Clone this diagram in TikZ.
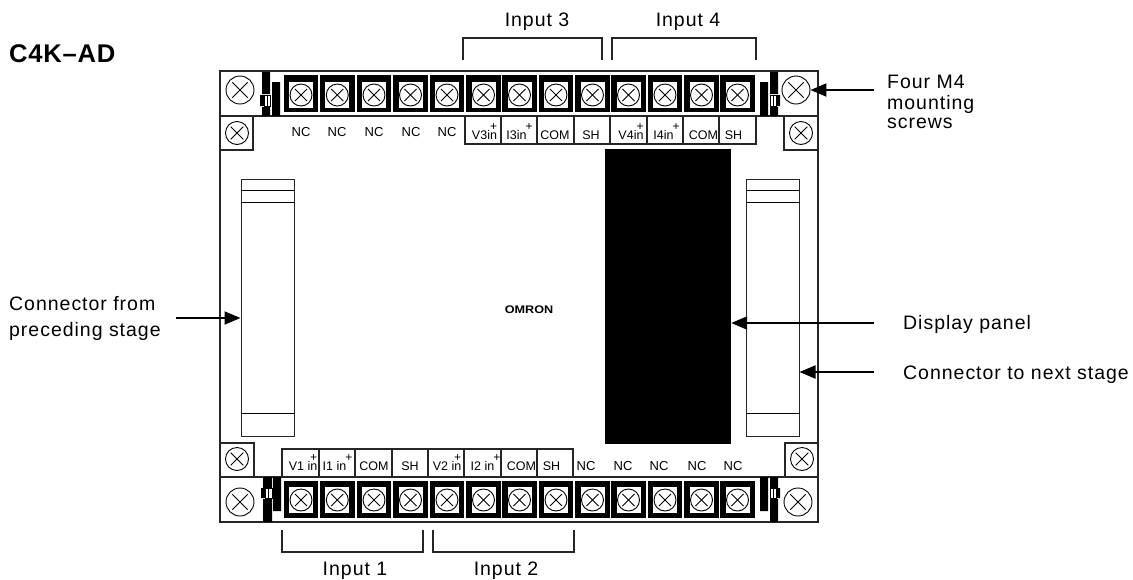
\documentclass[tikz,border=0pt]{standalone}
\usepackage{fontspec}
\setmainfont{Liberation Sans}
\newfontfamily\spacedfont[LetterSpace=5]{Liberation Sans}
\newfontfamily\titlefont[LetterSpace=3]{Liberation Sans Bold}
\usetikzlibrary{arrows.meta}
\newcommand{\plusL}{\llap{\raisebox{9pt}{\fontsize{12}{12}\selectfont +}}}
\newcommand{\plusR}{\rlap{\kern-1pt\raisebox{9pt}{\fontsize{12}{12}\selectfont +}}}
\tikzset{
  x=1pt,y=-1pt,
  line/.style={line width=1.1pt,color=black!85},
  thin line/.style={line width=0.9pt,color=black},
  big text/.style={inner sep=0pt,anchor=base west,font=\fontsize{19.5}{20}\spacedfont},
  mid text/.style={inner sep=0pt,anchor=base,font=\fontsize{19.5}{20}\spacedfont},
  small text/.style={inner sep=0pt,anchor=base,font=\fontsize{12.5}{14}\selectfont},
  nc text/.style={inner sep=0pt,anchor=base,font=\fontsize{13}{14}\selectfont},
  title text/.style={inner sep=0pt,anchor=base west,font=\fontsize{25.6}{26}\titlefont},
  blk/.style={fill=black,draw=none},
  pointer/.style={line width=2pt,-{Triangle[length=16pt,width=13pt]}},
  screw/.style={circle,draw=black,line width=0.9pt,inner sep=0pt,minimum size=#1,fill=white},
  screw/.default=22pt,
  panel/.style={fill=black,draw=none,inner sep=0pt,minimum width=126pt,minimum height=295pt},
  conn/.style={draw=black!85,line width=1pt,fill=white,inner sep=0pt,minimum width=53pt,minimum height=257pt},
  termbox/.style={fill=black,draw=none,inner sep=0pt,minimum width=34.5pt,minimum height=37pt},
  termhole/.style={fill=white,draw=none,inner sep=0pt,minimum width=24pt,minimum height=26pt},
}
\newcommand{\screwat}[4]{%
  \node[screw=#4 pt] (#1) at (#2,#3) {};
  \draw[line width=0.8pt,shorten >=0.13*#4 pt,shorten <=0.13*#4 pt] (#1.45) -- (#1.225);
  \draw[line width=0.8pt,shorten >=0.13*#4 pt,shorten <=0.13*#4 pt] (#1.135) -- (#1.315);
}
\begin{document}
\begin{tikzpicture}
\useasboundingbox (0,0) rectangle (1133,579);
\fill[white] (0,0) rectangle (1133,579);

% body
\draw[line] (220,71) rectangle (818,522);
\draw[line] (220,116) -- (818,116);
\draw[line] (220,477) -- (818,477);
\draw[line] (220,116) rectangle (253,150);
\draw[line] (784,116) rectangle (818,150);
\draw[line] (220,443) rectangle (254,477);
\draw[line] (785,443) rectangle (818,477);

% corner screws
\screwat{bigTL}{240}{90}{28}
\screwat{bigTR}{796}{90}{28}
\screwat{bigBL}{240}{502}{28}
\screwat{bigBR}{798}{502}{28}
\screwat{smTL}{237}{133}{23}
\screwat{smTR}{801}{133}{23}
\screwat{smBL}{237}{459}{23}
\screwat{smBR}{802}{459}{23}

% terminals
\foreach \n/\cx in {1/301,2/337.3,3/374,4/410.5,5/447,6/483.5,7/519.5,8/556,9/592.5,10/628.5,11/665,12/701.5,13/737.5}{
  \node[termbox] (tt\n) at (\cx,93.5) {};
  \node[termhole] at (\cx,94.5) {};
  \screwat{st\n}{\cx}{95}{22}
  \node[termbox] (tb\n) at (\cx,499.5) {};
  \node[termhole] at (\cx,500) {};
  \screwat{sb\n}{\cx}{500}{22}
}

% latches: top left
\fill[blk] (262,72) rectangle (270,94) (262,107) rectangle (270,116) (272,82) rectangle (280,116) (260,95) rectangle (264,106);
\draw[thin line] (264,95) rectangle (270,106) (267,95) -- (267,106);
% top right
\fill[blk] (770,72) rectangle (778,94) (770,107) rectangle (778,116) (760,82) rectangle (768,116) (776,95) rectangle (780,106);
\draw[thin line] (770,95) rectangle (776,106) (773,95) -- (773,106);
% bottom left
\fill[blk] (263,477) rectangle (272,488) (263,499) rectangle (272,522) (273,477) rectangle (281,511) (261,488) rectangle (265,498);
\draw[thin line] (265,488) rectangle (272,498) (268.5,488) -- (268.5,498);
% bottom right
\fill[blk] (770,477) rectangle (778,488) (770,499) rectangle (778,522) (760,477) rectangle (768,511) (776,488) rectangle (780,498);
\draw[thin line] (770,488) rectangle (776,498) (773,488) -- (773,498);

% terminal labels boxes
\foreach \a/\b in {465/501,501/537,537/574,574/610,610/647,647/683,683/719,719/756}{
  \draw[line] (\a,117) -- (\a,144) -- (\b,144) -- (\b,117);
}
\foreach \a/\b in {282/319,319/355,355/392,392/428,428/464,464/501,501/537,537/573}{
  \draw[line] (\a,476) -- (\a,449) -- (\b,449) -- (\b,476);
}

% connectors and panel
\node[conn] (lconn) at (267.5,307.5) {};
\node[conn] (rconn) at (772.5,307.5) {};
\foreach \x in {241,746}{
  \draw[thin line] (\x,190) -- +(53,0) (\x,202) -- +(53,0) (\x,413) -- +(53,0);
}
\node[panel] (dpanel) at (668,296.5) {};

% terminal labels
\foreach \n/\x in {a/301,b/337,c/374,d/411,e/447}{ \node[nc text] (nct\n) at (\x,136) {NC}; }
\foreach \n/\x in {a/586,b/623,c/659,d/697,e/733}{ \node[nc text] (ncb\n) at (\x,470) {NC}; }
\node[small text] (lta) at (484.5,139) {V3in\plusL};
\node[small text] (ltb) at (516.5,139) {I3in\plusR};
\node[small text] (ltc) at (555,139) {COM};
\node[small text] (ltd) at (591,139) {SH};
\node[small text] (lte) at (631,139) {V4in\plusL};
\node[small text] (ltf) at (663.5,139) {I4in\plusR};
\node[small text] (ltg) at (703.5,139) {COM};
\node[small text] (lth) at (733.5,139) {SH};
\node[small text] (lba) at (303,470) {V1 in\plusL};
\node[small text] (lbb) at (334.5,470) {I1 in\plusR};
\node[small text] (lbc) at (374,470) {COM};
\node[small text] (lbd) at (410,470) {SH};
\node[small text] (lbe) at (447,470) {V2 in\plusL};
\node[small text] (lbf) at (482.5,470) {I2 in\plusR};
\node[small text] (lbg) at (521.5,470) {COM};
\node[small text] (lbh) at (551.5,470) {SH};

% brackets
\draw[line] (463,60) |- (602,38) -- (602,60);
\draw[line] (612,60) |- (756,38) -- (756,60);
\draw[line] (282,530) |- (423,552) -- (423,530);
\draw[line] (433,530) |- (574,552) -- (574,530);
\node[mid text] (in3) at (537,26) {Input 3};
\node[mid text] (in4) at (688,26) {Input 4};
\node[mid text] (in1) at (355,575) {Input 1};
\node[mid text] (in2) at (506,575) {Input 2};

% texts
\node[title text] (title) at (9,62) {C4K–AD};
\node[inner sep=0pt,font=\fontsize{11}{11}\bfseries\selectfont,xscale=1.15] (logo) at (529,310) {OMRON};
\node[big text] (fourA) at (887,88) {Four M4};
\node[big text] (fourB) at (887,109) {mounting};
\node[big text] (fourC) at (887,128) {screws};
\node[big text] (cfromA) at (9,310) {Connector from};
\node[big text] (cfromB) at (9,336) {preceding stage};
\node[big text] (dlabel) at (903,329) {Display panel};
\node[big text] (nlabel) at (903,379) {Connector to next stage};

% pointers
\coordinate (ta) at (874,90);
\coordinate (tb) at (874,323);
\coordinate (tc) at (874,372);
\coordinate (td) at (176,318);
\draw[pointer] (ta) -- (bigTR.east);
\draw[pointer] (tb) -- (dpanel.east |- tb);
\draw[pointer] (tc) -- (rconn.east |- tc);
\draw[pointer] (td) -- (lconn.west |- td);
\end{tikzpicture}
\end{document}
